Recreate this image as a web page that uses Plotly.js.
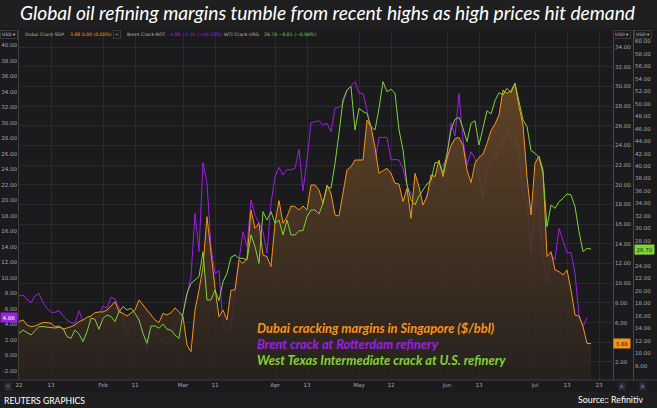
<!DOCTYPE html>
<html><head><meta charset="utf-8">
<script src="https://cdn.plot.ly/plotly-3.0.1.min.js"></script>
<style>html,body{margin:0;padding:0;background:#1f1f1f;}#chart{width:657px;height:408px;}</style>
</head><body><div id="chart"></div>
<script>
// ---- data (trading days from 2022-01-03, weekends excluded) ----
const startDate = '2022-01-03';
const brent = [7.68,7.81,7.25,6.82,7.68,8.02,6.82,6.09,5.57,5.57,
 5.79,5.10,4.58,4.24,4.15,5.79,4.37,4.58,4.92,4.80,
 5.01,6.39,6.09,7.51,7.29,6.09,5.01,2.65,4.06,3.51,
 5.23,3.08,0.62,3.72,3.08,2.09,2.00,2.52,1.79,3.70,
 5.01,5.44,8.02,10.17,18.35,13.40,24.88,22.22,14.04,10.60,
 10.95,3.94,3.08,3.72,8.45,12.32,15.98,14.04,20.07,18.13,
 17.05,15.98,13.18,19.64,23.08,24.28,23.29,24.02,23.94,24.15,
 26.60,21.27,25.23,30.04,30.17,30.30,29.74,29.96,28.88,31.89,
 32.02,32.54,34.26,34.78,35.33,33.83,33.83,31.68,28.88,25.01,
 28.15,28.15,28.15,25.23,25.31,25.23,24.15,21.87,20.84,19.85,
 19.55,19.21,20.71,21.87,23.29,23.72,24.58,25.44,30.00,28.30,
 33.80,27.81,24.58,26.30,25.44,23.08,20.28,24.15,25.23,25.23,
 27.16,27.29,29.31,28.15,28.32,26.09,20.93,19.72,13.18,20.50,
 18.99,12.75,9.31,13.18,12.32,16.41,14.69,13.27,13.27,10.60,
 5.23,3.72,4.88];
const dubai = [6.10,6.27,5.76,5.59,5.66,5.86,6.00,6.00,5.93,5.59,
 5.66,5.32,5.42,5.59,5.76,6.10,6.27,6.54,6.67,7.01,
 7.08,7.08,7.28,7.69,8.13,7.11,6.94,6.67,6.94,7.28,
 8.30,7.79,7.28,6.78,6.27,6.00,6.94,6.78,7.00,7.50,
 7.11,6.60,3.73,3.05,7.28,9.31,11.68,16.76,13.04,9.48,
 6.60,7.28,6.27,9.31,9.31,12.36,12.02,12.53,17.44,15.58,
 16.09,12.87,12.70,11.68,16.09,18.39,16.09,16.76,17.85,17.78,
 17.44,17.85,17.44,19.98,19.98,19.47,18.12,19.98,19.13,16.93,
 16.83,18.97,21.51,21.84,22.52,22.52,22.52,26.58,25.91,23.81,
 21.17,21.44,21.67,21.17,20.15,20.08,18.29,19.64,16.59,21.17,
 19.81,17.95,18.80,21.00,20.83,22.52,20.83,22.69,24.00,24.70,
 24.82,24.04,21.50,20.22,22.18,22.79,23.13,24.21,25.50,26.18,
 27.09,29.63,29.29,29.56,30.31,27.94,26.08,20.83,16.93,22.18,
 22.93,21.50,12.70,13.21,11.35,11.18,10.84,11.35,9.31,6.77,
 6.67,5.59,3.88,3.88];
const wti = [13.18,13.72,13.29,12.92,13.61,14.25,14.25,14.15,14.15,14.04,
 14.15,13.99,12.65,12.38,13.72,13.08,11.85,13.45,15.59,15.43,
 13.83,15.59,16.12,15.86,15.06,16.66,17.46,16.93,17.19,16.39,
 15.32,13.18,11.58,14.36,14.36,13.99,14.68,13.83,13.70,12.90,
 12.38,16.39,19.59,21.20,21.73,22.27,26.27,18.53,18.53,20.13,
 18.42,21.47,22.80,25.37,25.74,25.21,25.21,24.94,28.95,27.08,
 24.40,32.69,31.35,32.69,30.82,31.35,28.95,31.35,28.95,28.95,
 29.64,29.64,31.89,32.95,32.95,32.31,34.02,36.69,36.43,40.43,
 45.24,50.59,52.19,52.73,45.78,49.25,48.72,48.45,46.31,45.78,
 49.25,53.53,51.92,52.30,51.66,45.78,42.57,36.96,34.56,33.76,
 35.20,36.16,37.12,37.66,40.54,40.54,38.83,42.04,45.80,47.49,
 47.81,46.05,43.91,46.85,47.27,43.37,46.05,48.88,48.34,50.48,
 51.76,51.39,52.46,51.76,53.26,50.05,47.38,46.31,42.47,42.04,
 41.40,38.83,30.28,33.76,33.22,34.29,34.82,35.52,35.36,33.49,
 29.48,26.27,26.81,26.70];
const xTickDates = ['2022-01-03','2022-01-13','2022-02-01','2022-02-11','2022-03-01','2022-03-11',
 '2022-04-01','2022-04-13','2022-05-02','2022-05-12','2022-06-01','2022-06-13','2022-07-01','2022-07-13','2022-07-25'];
const xTickText = ['22','13','Feb','11','Mar','11','Apr','13','May','12','Jun','13','Jul','13','23'];
const seriesNames = ['Dubai Crack-SGP','Brent Crack-ROT','WTI Crack-USG'];
const legendText = ['Dubai cracking margins in Singapore ($/bbl)','Brent crack at Rotterdam refinery','West Texas Intermediate crack at U.S. refinery'];
const lastInfo = ['3.88 0.00 (0.00%)','4.88 +1.41 (+40.52%)','26.70 \u22120.01 (\u22120.04%)'];
const leftTicks = [-2,0,2,4,6,8,10,12,14,16,18,20,22,24,26,28,30,32,34,36,38,40];
const midTicks = [2,4,6,8,10,12,14,16,18,20,22,24,26,28,30,32,34];
const rightTicks = [8,10,12,14,16,18,20,22,24,26,28,30,32,34,36,38,40,42,44,46,48,50,52,54,56,58,60];

// ---- build weekday dates ----
function weekdays(start, n){
  const out=[]; const d=new Date(start+'T00:00:00Z');
  while(out.length<n){ const w=d.getUTCDay(); if(w!==0&&w!==6) out.push(d.toISOString().slice(0,10)); d.setUTCDate(d.getUTCDate()+1); }
  return out;
}
const dates = weekdays(startDate, 150);
const fmt = a => a.map(v => v.toFixed(2));

const C_OR='#f7941d', C_PU='#9d1fe6', C_GR='#80d23a';
const W=657, H=408, ML=19, MR=22, MT=30, MB=28;
const PW=W-ML-MR, PH=H-MT-MB;
const px = x => (x-ML)/PW;           // pixel -> paper x
const py = y => (H-MB-y)/PH;         // pixel -> paper y
const tickFont = {family:'DejaVu Sans', size:5.5, color:'#a8a8a8'};
const hdrFont = {family:'DejaVu Sans', size:4.6, color:'#bdbdbd'};

const traces = [
  {x: dates.slice(0,dubai.length), y: dubai, yaxis:'y2', type:'scatter', mode:'lines', line:{width:0, color:C_OR},
   fill:'tozeroy', fillgradient:{type:'vertical', start:0, stop:32, colorscale:[[0,'rgba(40,34,30,0.85)'],[1,'rgba(112,76,40,0.85)']]},
   hoverinfo:'skip', showlegend:false},
  {x: dates.slice(0,brent.length), y: brent, yaxis:'y', type:'scatter', mode:'lines', line:{width:1, color:C_PU}, name:seriesNames[1]},
  {x: dates.slice(0,wti.length), y: wti, yaxis:'y3', type:'scatter', mode:'lines', line:{width:1, color:C_GR}, name:seriesNames[2]},
  {x: dates.slice(0,dubai.length), y: dubai, yaxis:'y2', type:'scatter', mode:'lines', line:{width:1, color:C_OR}, name:seriesNames[0]}
];

const ann = [];
function A(o){ ann.push(Object.assign({xref:'paper', yref:'paper', showarrow:false, xanchor:'center', yanchor:'middle'}, o)); }
// legend texts
const legCols=[C_OR,C_PU,C_GR], legY=[328,344,360];
legendText.forEach((t,i)=>A({text:t, x:px(255), y:py(legY[i]), xanchor:'left',
  font:{family:'Lato', size:12.9, color:legCols[i], weight:'bold', style:'italic'}}));
// header row
const hdrY = py(34.5);
const boxFont = {family:'DejaVu Sans', size:4.5, color:'#c8c8c8'};
[9,622,643].forEach(x=>A({text:'USD \u25BE', x:px(x), y:py(34), font:boxFont, bordercolor:'#3a3a3a', borderwidth:1, borderpad:1, bgcolor:'#1b1b1e'}));
A({text:seriesNames[0], x:px(23), y:hdrY, xanchor:'left', font:hdrFont});
A({text:lastInfo[0], x:px(68), y:hdrY, xanchor:'left', font:Object.assign({}, hdrFont, {color:C_OR})});
A({text:'<', x:px(116.5), y:hdrY, font:hdrFont, bordercolor:'#3a3a3a', borderwidth:1, borderpad:1});
A({text:seriesNames[1], x:px(125), y:hdrY, xanchor:'left', font:hdrFont});
A({text:lastInfo[1], x:px(168), y:hdrY, xanchor:'left', font:Object.assign({}, hdrFont, {color:C_PU})});
A({text:seriesNames[2], x:px(222), y:hdrY, xanchor:'left', font:hdrFont});
A({text:lastInfo[2], x:px(262), y:hdrY, xanchor:'left', font:Object.assign({}, hdrFont, {color:C_GR})});
// last value labels
A({text:brent[brent.length-1].toFixed(2), x:px(9), yref:'y', y:brent[brent.length-1], bgcolor:C_PU, font:{family:'DejaVu Sans', size:5.5, color:'#ffffff'}, borderpad:1.5});
A({text:dubai[dubai.length-1].toFixed(2), x:px(622), yref:'y2', y:dubai[dubai.length-1], bgcolor:C_OR, font:{family:'DejaVu Sans', size:5.5, color:'#2a1a08'}, borderpad:1.5});
A({text:wti[wti.length-1].toFixed(2), x:px(644), yref:'y3', y:wti[wti.length-1], bgcolor:C_GR, font:{family:'DejaVu Sans', size:5.5, color:'#12300a'}, borderpad:1.5});
// bottom icons
[[8,'\u2261'],[622,'A'],[642,'B']].forEach(a=>A({text:a[1], x:px(a[0]), y:py(386), bgcolor:'#2c2c38', font:{family:'DejaVu Sans', size:4.5, color:'#8a8aa0'}, borderpad:1}));
// footer
A({text:'REUTERS GRAPHICS', x:px(2), y:py(400.5), xanchor:'left', font:{family:'Liberation Sans Narrow, Lato', size:8.6, color:'#ffffff'}});
A({text:'Source:: Refinitiv', x:px(645), y:py(399.5), xanchor:'right', font:{family:'Lato', size:8.8, color:'#ffffff'}});

const layout = {
  width:W, height:H, margin:{l:ML, r:MR, t:MT, b:MB},
  paper_bgcolor:'#1f1f1f', plot_bgcolor:'rgba(0,0,0,0)', showlegend:false,
  title:{text:'Global oil refining margins tumble from recent highs as high prices hit demand', xref:'container', x:(327.5)/W, xanchor:'center', y:1-13/H, yanchor:'middle',
    font:{family:'Lato', size:19.2, color:'#ffffff', style:'italic'}},
  xaxis:{type:'date', domain:[0, (613-ML)/PW], range:['2022-01-03','2022-07-28 12:00'],
    rangebreaks:[{bounds:['sat','mon']}], tickvals:xTickDates, ticktext:xTickText, tickfont:tickFont,
    showgrid:true, gridcolor:'#2a2a2d', gridwidth:1, showline:false, ticks:'', zeroline:false, fixedrange:true},
  yaxis:{range:[-3.16, 42.0], tickvals:leftTicks, ticktext:fmt(leftTicks), tickfont:tickFont, side:'left',
    showgrid:false, zeroline:false, showline:true, linecolor:'#3c3c3f', ticks:''},
  yaxis2:{range:[0.17, 35.727], overlaying:'y', side:'right', anchor:'x', tickvals:midTicks, ticktext:fmt(midTicks), tickfont:tickFont,
    showgrid:true, gridcolor:'#2a2a2d', zeroline:false, showline:true, linecolor:'#48484c', ticks:''},
  yaxis3:{range:[5.70, 61.81], overlaying:'y', side:'right', anchor:'free', position:(633-ML)/PW, tickvals:rightTicks, ticktext:fmt(rightTicks), tickfont:tickFont,
    showgrid:false, zeroline:false, showline:true, linecolor:'#48484c', ticks:''},
  shapes:[
    {type:'rect', xref:'paper', yref:'paper', x0:px(0), x1:px(W), y0:py(392), y1:py(28), fillcolor:'#1b1b1e', line:{width:0}, layer:'below'},
    {type:'line', xref:'paper', yref:'paper', x0:px(0), x1:px(W), y0:py(380), y1:py(380), line:{width:1, color:'#3c3c3f'}, layer:'above'}
  ],
  annotations:ann
};
Plotly.newPlot('chart', traces, layout, {staticPlot:true, displayModeBar:false});
</script></body></html>
